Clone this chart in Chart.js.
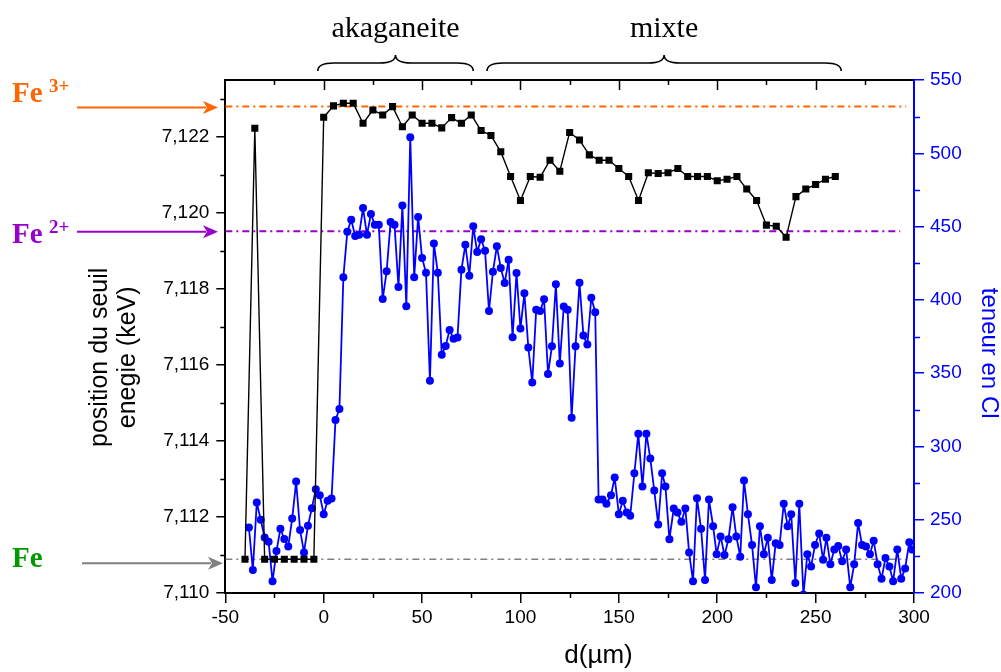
<!DOCTYPE html>
<html><head><meta charset="utf-8">
<script src="https://cdn.jsdelivr.net/npm/chart.js@4.4.1/dist/chart.umd.min.js"></script>
<style>html,body{margin:0;padding:0;background:#fff;}#wrap{width:1001px;height:672px;position:relative;}</style>
</head><body><div id="wrap"><canvas id="c" width="1001" height="672"></canvas></div>
<script>
// ---- data ----
const xTicks = [-50, 0, 50, 100, 150, 200, 250, 300];
const leftTicks = [7.110, 7.112, 7.114, 7.116, 7.118, 7.120, 7.122];
const rightTicks = [200, 250, 300, 350, 400, 450, 500, 550];

const energyX = [-40,-35,-30,-25,-20,-15,-10,-5,0,5,10,15,20,25,30,35,40,45,50,55,60,65,70,75,80,85,90,95,100,105,110,115,120,125,130,135,140,145,150,155,160,165,170,175,180,185,190,195,200,205,210,215,220,225,230,235,240,245,250,255,260];
const energyY = [7.11089,7.12223,7.11089,7.11089,7.11089,7.11089,7.11089,7.11089,
 7.12252,7.12282,7.12289,7.12289,7.12236,7.12271,7.12258,7.12280,7.12227,7.12258,7.12236,7.12236,7.12224,7.12251,7.12236,7.12258,
 7.12217,7.12204,7.12161,7.12096,7.12033,7.12096,7.12094,7.12139,7.12110,7.12212,7.12192,7.12153,7.12139,7.12139,7.12117,7.12096,
 7.12033,7.12106,7.12104,7.12106,7.12117,7.12096,7.12096,7.12096,7.12085,7.12089,7.12096,7.12063,7.12033,7.11968,7.11965,7.11936,
 7.12043,7.12063,7.12075,7.12089,7.12096];

const clX = [-38,-36,-34,-32,-30,-28,-26,-24,-22,-20,-18,-16,-14,-12,-10,-8,-6,-4,-2,0,2,4,6,8,10,12,14,16,18,20,22,24,26,28,30,32,34,36,38,40,42,44,46,48,50,52,54,56,58,60,62,64,66,68,70,72,74,76,78,80,82,84,86,88,90,92,94,96,98,100,102,104,106,108,110,112,114,116,118,120,122,124,126,128,130,132,134,136,138,
 139.7,141.7,143.7,146,147.9,150,152,154,155.8,157.9,159.9,162,164,166,168,170,172,173.7,175.7,177.9,179.8,181.8,183.8,185.7,187.7,189.7,191.8,193.8,195.8,197.9,199.7,201.7,203.7,205.7,207.8,209.7,211.7,213.6,215.6,217.7,219.7,221.7,223.7,225.7,227.7,229.7,231.7,233.8,235.8,237.6,239.7,241.7,243.8,245.8,247.7,249.7,251.8,253.8,255.5,257.5,259.5,261.5,263.5,265.5,267.6,269.6,271.6,273.6,275.6,277.6,279.5,281.5,283.5,285.5,287.5,289.4,291.5,293.5,295.5,297.6,299];
const clY = [244.7,215.7,261.7,250,237.9,235,208,228.6,243.8,236.8,231.8,250.8,276,242.9,227.7,245.9,257.9,270.8,266.7,253.8,262.9,264.5,318,325.5,415.4,446.4,454.6,443.5,444.4,462.6,444.4,458.5,451.2,451.2,400.6,419.5,453.2,451.2,408.8,464.4,395.6,511,415.4,456.6,428.5,418.5,344.8,438.5,418.5,362.5,368.6,379.5,373.4,374.3,420.6,437.6,416.5,450.3,432.6,441.3,433.5,392.4,419.2,436.5,421.7,411.5,427.4,374.5,418.3,380.4,404.5,367.5,343.6,393.3,392.4,400.4,349.4,368.4,410.6,356.6,395.4,393.3,319.6,368.4,411.7,375.6,369.5,401.5,391.6,
 263.8,263.8,260.9,266.7,278.8,253.8,262.9,254.9,252.7,281.7,308.7,272.6,308.7,291.7,269.9,246.8,281.7,272.6,236.6,257.7,254.9,248.6,257.7,227.7,208,264.7,243.8,208.8,263.8,245.6,226.5,238.6,225.9,236.6,258.5,238.6,224.8,276.7,253.8,232.7,203.9,245.6,226.5,237.7,208.8,234,232.7,260.9,245.6,253.8,206.8,260.9,199,226.5,218,232.7,240.6,222.7,237.7,219.7,229.7,232,221.6,229.7,203.9,219.7,247.7,232.7,231.8,226.5,235.7,219.7,209.8,223.8,218,208,229.7,209.8,216.8,234.7,229.7];

const refNames = ['Fe', 'Fe', 'Fe'];
const refCharges = ['3+', '2+', ''];
const refLevels = [7.1228, 7.11952, 7.11089];
const refEndX = [296, 293, 296];
const refColors = ['#FF6600', '#9A00CC', '#808080'];
const refLabelColors = ['#FF6600', '#9A00CC', '#009900'];

const phaseNames = ['akaganeite', 'mixte'];
const phaseStart = [-3, 83];
const phaseEnd = [76, 263];

// ---- helpers ----
const SANS = 'Liberation Sans, Arial, sans-serif';
const SERIF = 'Liberation Serif, Times New Roman, serif';
const pts = (xs, ys) => xs.map((x, i) => ({x, y: ys[i]}));

const refDatasets = refLevels.map((lv, i) => ({
  label: refNames[i] + refCharges[i],
  data: [{x: -50, y: lv}, {x: refEndX[i], y: lv}],
  yAxisID: 'y', borderColor: refColors[i], borderWidth: i === 2 ? 1.5 : 2,
  borderDash: [7, 4, 2, 4], pointRadius: 0, fill: false
}));

function brace(ctx, x1, x2, yEnd, h) {
  const xm = (x1 + x2) / 2, ym = yEnd - h * 0.5, yt = yEnd - h, q = 16;
  ctx.beginPath();
  ctx.moveTo(x1, yEnd);
  ctx.quadraticCurveTo(x1, ym, x1 + q, ym);
  ctx.lineTo(xm - q, ym);
  ctx.quadraticCurveTo(xm, ym, xm, yt);
  ctx.quadraticCurveTo(xm, ym, xm + q, ym);
  ctx.lineTo(x2 - q, ym);
  ctx.quadraticCurveTo(x2, ym, x2, yEnd);
  ctx.stroke();
}
function arrow(ctx, x1, x2, y, color) {
  ctx.strokeStyle = color; ctx.fillStyle = color; ctx.lineWidth = 2;
  ctx.beginPath(); ctx.moveTo(x1, y); ctx.lineTo(x2 - 12, y); ctx.stroke();
  ctx.beginPath(); ctx.moveTo(x2, y); ctx.lineTo(x2 - 15, y - 6.5); ctx.lineTo(x2 - 11, y); ctx.lineTo(x2 - 15, y + 6.5); ctx.closePath(); ctx.fill();
}

const annot = {
  id: 'annot',
  afterDraw(chart) {
    const {ctx, chartArea: ca, scales} = chart;
    const x = scales.x, y = scales.y, y2 = scales.y2;
    ctx.save();
    // minor / mirror ticks
    ctx.lineWidth = 1.5; ctx.strokeStyle = '#000';
    ctx.beginPath();
    for (let v = -50; v <= 300; v += 25) {
      const px = Math.round(x.getPixelForValue(v)) + 0.5;
      const major = v % 50 === 0;
      if (!major) { ctx.moveTo(px, ca.bottom); ctx.lineTo(px, ca.bottom + 5); }
      if (v > -50 && v < 300) { ctx.moveTo(px, ca.top); ctx.lineTo(px, ca.top + (major ? 10 : 5)); }
    }
    for (let k = 0; k < 7; k++) {
      const v = 7.111 + k * 0.002;
      const py = Math.round(y.getPixelForValue(v)) + 0.5;
      ctx.moveTo(ca.left - 5, py); ctx.lineTo(ca.left, py);
    }
    ctx.stroke();
    ctx.strokeStyle = '#0000FF'; ctx.beginPath();
    for (let v = 225; v < 550; v += 50) {
      const py = Math.round(y2.getPixelForValue(v)) + 0.5;
      ctx.moveTo(ca.right, py); ctx.lineTo(ca.right + 6, py);
    }
    ctx.stroke();

    // reference labels and arrows
    const arrowOff = [1, 0.5, 4];
    const arrowStart = [77, 77, 82];
    const arrowEnd = [218, 218, 223];
    const baseOff = [-5, 12, 8];
    refLevels.forEach((lv, i) => {
      const py = y.getPixelForValue(lv);
      arrow(ctx, arrowStart[i], arrowEnd[i], py + arrowOff[i], i === 2 ? '#808080' : refColors[i]);
      ctx.fillStyle = refLabelColors[i];
      ctx.textBaseline = 'alphabetic'; ctx.textAlign = 'left';
      ctx.font = 'bold 29px ' + SERIF;
      const base = py + baseOff[i];
      ctx.fillText(refNames[i], 12, base);
      if (refCharges[i]) {
        ctx.font = 'bold 19px ' + SERIF;
        ctx.fillText(refCharges[i], 49, base - 10);
      }
    });

    // phase braces
    ctx.strokeStyle = '#000'; ctx.lineWidth = 1.6; ctx.fillStyle = '#000';
    ctx.font = '30px ' + SERIF; ctx.textAlign = 'center'; ctx.textBaseline = 'alphabetic';
    phaseNames.forEach((nm, i) => {
      const a = x.getPixelForValue(phaseStart[i]), b = x.getPixelForValue(phaseEnd[i]);
      brace(ctx, a, b, 71, 16);
      ctx.fillText(nm, (a + b) / 2, 37);
    });
    ctx.restore();
  }
};

new Chart(document.getElementById('c'), {
  type: 'line',
  data: {
    datasets: [
      {label: 'position du seuil', data: pts(energyX, energyY), yAxisID: 'y', borderColor: '#000', backgroundColor: '#000',
       borderWidth: 1.4, borderJoinStyle: 'round', pointStyle: 'rect', pointRadius: 5, pointBorderWidth: 0, tension: 0},
      {label: 'teneur en Cl', data: pts(clX, clY), yAxisID: 'y2', borderColor: '#0000FF', backgroundColor: '#0000FF',
       borderWidth: 1.8, borderJoinStyle: 'round', pointStyle: 'circle', pointRadius: 4, pointBorderWidth: 0, tension: 0},
      ...refDatasets
    ]
  },
  options: {
    responsive: false, animation: false, devicePixelRatio: 1,
    layout: {padding: 0},
    plugins: {legend: {display: false}, tooltip: {enabled: false}},
    scales: {
      x: {
        type: 'linear', position: 'bottom', min: -50, max: 300,
        afterBuildTicks: s => { s.ticks = xTicks.map(v => ({value: v})); },
        afterFit: s => { s.height = 79; },
        ticks: {color: '#000', font: {family: SANS, size: 19}, padding: 3, maxRotation: 0, autoSkip: false},
        grid: {drawOnChartArea: false, tickLength: 10, color: '#000', lineWidth: 1.5},
        border: {color: '#000', width: 2},
        title: {display: true, text: '        d(µm)', color: '#000', font: {family: SANS, size: 26, lineHeight: 1.2}, padding: {top: 0, bottom: 1}}
      },
      x2: {
        type: 'linear', position: 'top', min: -50, max: 300,
        afterFit: s => { s.height = 80; },
        ticks: {display: false}, grid: {display: false},
        border: {display: true, color: '#000', width: 2}
      },
      y: {
        type: 'linear', position: 'left', min: 7.110, max: 7.1235,
        afterBuildTicks: s => { s.ticks = leftTicks.map(v => ({value: v})); },
        afterFit: s => { s.width = 225.3; },
        ticks: {color: '#000', font: {family: SANS, size: 19}, padding: 7,
                callback: v => v.toFixed(3).replace('.', ',')},
        grid: {drawOnChartArea: false, tickLength: 9, color: '#000', lineWidth: 1.5},
        border: {color: '#000', width: 2},
        title: {display: true, text: ['position du seuil      ', 'enegie (keV)      '], color: '#000',
                font: {family: SANS, size: 25, lineHeight: 1.12}, padding: {top: 86, bottom: 0}}
      },
      y2: {
        type: 'linear', position: 'right', min: 200, max: 550,
        afterBuildTicks: s => { s.ticks = rightTicks.map(v => ({value: v})); },
        afterFit: s => { s.width = 87; },
        ticks: {color: '#0000FF', font: {family: SANS, size: 19}, padding: 6},
        grid: {drawOnChartArea: false, tickLength: 10, color: '#0000FF', lineWidth: 1.5},
        border: {color: '#0000FF', width: 2},
        title: {display: true, text: '     teneur en Cl', color: '#0000FF',
                font: {family: SANS, size: 24, lineHeight: 1}, padding: {top: 0, bottom: 0}}
      }
    }
  },
  plugins: [annot]
});
</script>
</body></html>
